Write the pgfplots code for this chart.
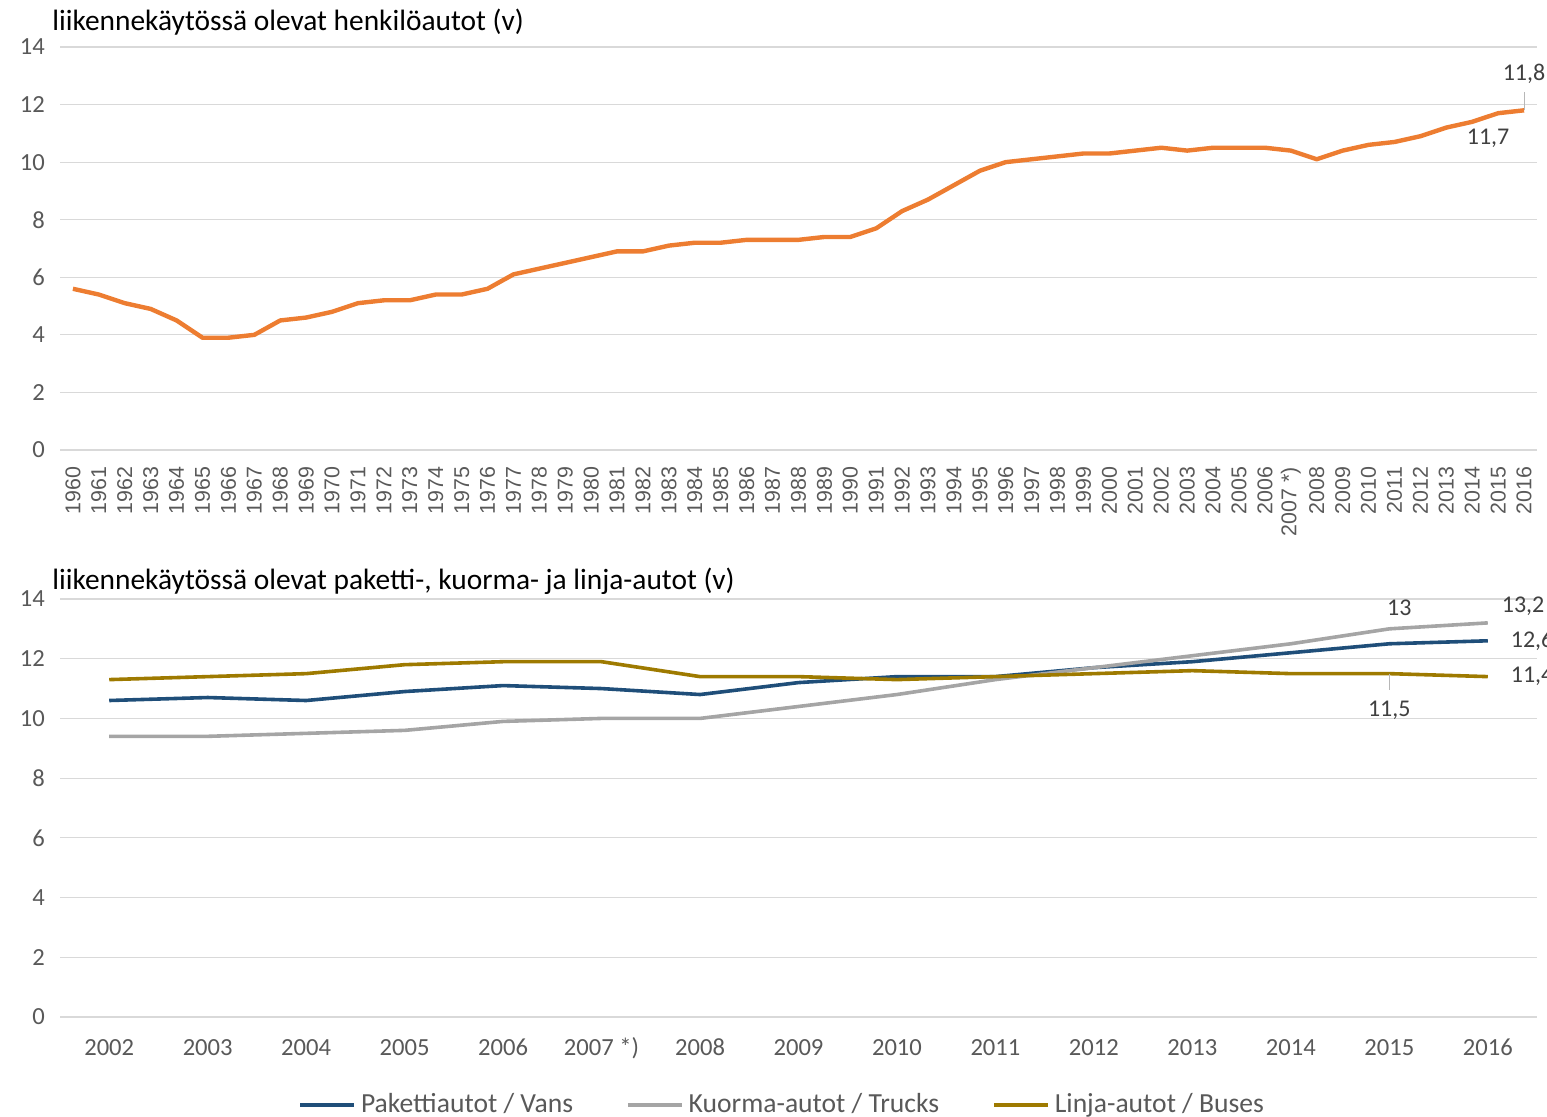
\documentclass[border=0pt]{standalone}
\usepackage{fontspec}
\setmainfont{Carlito}
\newfontfamily\arialf{Liberation Sans}
\usepackage{pgfplots}
\pgfplotsset{compat=1.18}
\definecolor{gridgray}{HTML}{D9D9D9}
\definecolor{ticktext}{HTML}{595959}
\definecolor{labtext}{HTML}{404040}
\definecolor{corange}{HTML}{ED7D31}
\definecolor{cblue}{HTML}{1F4E79}
\definecolor{cgray}{HTML}{A5A5A5}
\definecolor{cgold}{HTML}{9E7A00}
\begin{document}
\begin{tikzpicture}[x=1pt,y=1pt]
\path[use as bounding box] (0,0) rectangle (773.5,558.5);
\node[anchor=west,font=\fontsize{14.7}{17}\selectfont,inner sep=0pt] at (26,547.5) {liikennekäytössä olevat henkilöautot (v)};
\node[anchor=west,font=\fontsize{14.7}{17}\selectfont,inner sep=0pt] at (26,268) {liikennekäytössä olevat paketti-, kuorma- ja linja-autot (v)};
\begin{axis}[
  at={(30pt,333.5pt)}, anchor=south west, scale only axis,
  width=738.5pt, height=201.5pt,
  xmin=-0.5, xmax=56.5, ymin=0, ymax=14,
  ytick={0,2,...,14},
  xtick={0,...,56},
  xticklabels={1960,1961,1962,1963,1964,1965,1966,1967,1968,1969,1970,1971,1972,1973,1974,1975,1976,1977,1978,1979,1980,1981,1982,1983,1984,1985,1986,1987,1988,1989,1990,1991,1992,1993,1994,1995,1996,1997,1998,1999,2000,2001,2002,2003,2004,2005,2006,2007 *),2008,2009,2010,2011,2012,2013,2014,2015,2016},
  axis line style={draw=none},
  tick style={draw=none},
  ymajorgrids, major grid style={color=gridgray, line width=0.6pt},
  xticklabel style={rotate=90, anchor=east, font=\arialf\fontsize{10.7}{12}\selectfont, text=ticktext},
  xticklabel shift=5pt,
  yticklabel style={font=\fontsize{12.3}{14}\selectfont, text=ticktext, xshift=-4pt},
  /pgf/number format/assume math mode=true,
  clip=false,
]
\addplot[color=corange, line width=2.2pt, line join=round] table[x=x,y=y] {
x y
0 5.6
1 5.4
2 5.1
3 4.9
4 4.5
5 3.9
6 3.9
7 4.0
8 4.5
9 4.6
10 4.8
11 5.1
12 5.2
13 5.2
14 5.4
15 5.4
16 5.6
17 6.1
18 6.3
19 6.5
20 6.7
21 6.9
22 6.9
23 7.1
24 7.2
25 7.2
26 7.3
27 7.3
28 7.3
29 7.4
30 7.4
31 7.7
32 8.3
33 8.7
34 9.2
35 9.7
36 10.0
37 10.1
38 10.2
39 10.3
40 10.3
41 10.4
42 10.5
43 10.4
44 10.5
45 10.5
46 10.5
47 10.4
48 10.1
49 10.4
50 10.6
51 10.7
52 10.9
53 11.2
54 11.4
55 11.7
56 11.8
};
\draw[cgray!80, line width=0.5pt] (axis cs:56,11.8) -- ([yshift=9pt]axis cs:56,11.8);
\node[font=\fontsize{12}{14}\selectfont, text=labtext] at ([yshift=18pt]axis cs:56,11.8) {11,8};
\node[font=\fontsize{12}{14}\selectfont, text=labtext] at ([yshift=-12.5pt,xshift=-5pt]axis cs:55,11.7) {11,7};
\end{axis}
\begin{axis}[
  at={(30pt,50pt)}, anchor=south west, scale only axis,
  width=738.5pt, height=209pt,
  xmin=-0.5, xmax=14.5, ymin=0, ymax=14,
  ytick={0,2,...,14},
  xtick={0,...,14},
  xticklabels={2002,2003,2004,2005,2006,2007 *),2008,2009,2010,2011,2012,2013,2014,2015,2016},
  axis line style={draw=none},
  tick style={draw=none},
  ymajorgrids, major grid style={color=gridgray, line width=0.6pt},
  xticklabel style={font=\fontsize{12.3}{14}\selectfont, text=ticktext, yshift=-8pt, text height=0.75em, text depth=0.25em},
  yticklabel style={font=\fontsize{12.3}{14}\selectfont, text=ticktext, xshift=-4pt},
  /pgf/number format/assume math mode=true,
  clip=false,
  legend columns=3,
  legend style={at={(0.49,-0.21)}, anchor=center, draw=none, fill=none,
    font=\fontsize{13.8}{16}\selectfont, text=ticktext, inner sep=0pt,
    /tikz/every even column/.append style={column sep=24pt},
    nodes={inner xsep=2.5pt}},
  legend cell align=left,
  legend image code/.code={\draw[#1, line width=1.8pt] (0pt,0pt) -- (27pt,0pt);},
]
\addplot[color=cblue, line width=1.8pt, line join=round] table[x=x,y=y] {
x y
0 10.6
1 10.7
2 10.6
3 10.9
4 11.1
5 11.0
6 10.8
7 11.2
8 11.4
9 11.4
10 11.7
11 11.9
12 12.2
13 12.5
14 12.6
};
\addlegendentry{Pakettiautot / Vans}
\addplot[color=cgray, line width=1.8pt, line join=round] table[x=x,y=y] {
x y
0 9.4
1 9.4
2 9.5
3 9.6
4 9.9
5 10.0
6 10.0
7 10.4
8 10.8
9 11.3
10 11.7
11 12.1
12 12.5
13 13.0
14 13.2
};
\addlegendentry{Kuorma-autot / Trucks}
\addplot[color=cgold, line width=1.8pt, line join=round] table[x=x,y=y] {
x y
0 11.3
1 11.4
2 11.5
3 11.8
4 11.9
5 11.9
6 11.4
7 11.4
8 11.3
9 11.4
10 11.5
11 11.6
12 11.5
13 11.5
14 11.4
};
\addlegendentry{Linja-autot / Buses}
\node[font=\fontsize{12}{14}\selectfont, text=labtext] at ([yshift=10.5pt,xshift=5pt]axis cs:13,13.0) {13};
\node[font=\fontsize{12}{14}\selectfont, text=labtext, anchor=west] at ([yshift=8.5pt,xshift=3.5pt]axis cs:14,13.2) {13,2};
\node[font=\fontsize{12}{14}\selectfont, text=labtext, anchor=west] at ([xshift=8pt]axis cs:14,12.6) {12,6};
\node[font=\fontsize{12}{14}\selectfont, text=labtext, anchor=west] at ([xshift=8pt]axis cs:14,11.4) {11,4};
\draw[cgray!80, line width=0.5pt] (axis cs:13,11.5) -- ([yshift=-8pt]axis cs:13,11.5);
\node[font=\fontsize{12}{14}\selectfont, text=labtext] at ([yshift=-18.5pt]axis cs:13,11.5) {11,5};
\end{axis}
\end{tikzpicture}
\end{document}
